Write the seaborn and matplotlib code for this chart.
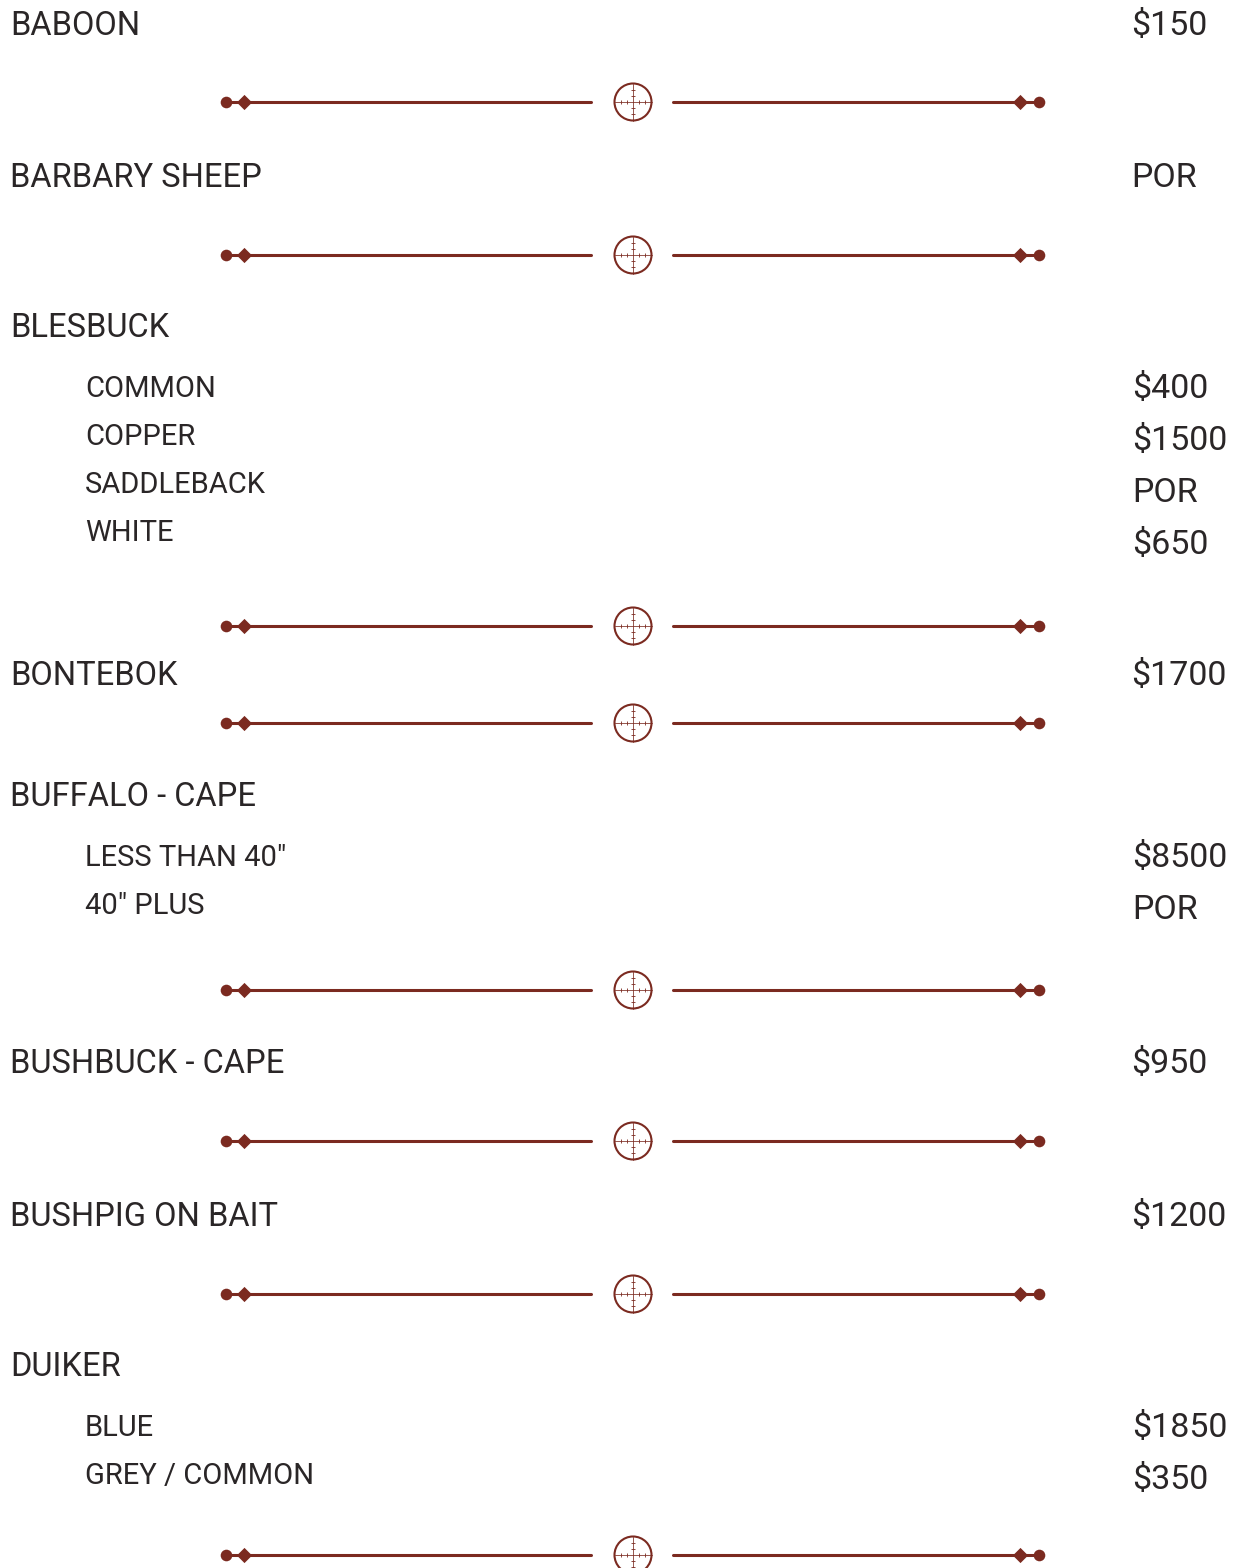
import numpy as np
import pandas as pd
import matplotlib
matplotlib.use("Agg")
import matplotlib.pyplot as plt
from matplotlib.patches import Circle
import seaborn as sns

sns.set_theme(style="white")
plt.rcParams['font.family'] = ['Roboto', 'DejaVu Sans']

# price list content
species = ["BABOON", "BARBARY SHEEP", "BLESBUCK", "BONTEBOK", "BUFFALO - CAPE",
           "BUSHBUCK - CAPE", "BUSHPIG ON BAIT", "DUIKER"]
species_prices = ["$150", "POR", "", "$1700", "", "$950", "$1200", ""]

sub_names = {
    "BLESBUCK": ["COMMON", "COPPER", "SADDLEBACK", "WHITE"],
    "BUFFALO - CAPE": ['LESS THAN 40"', '40" PLUS'],
    "DUIKER": ["BLUE", "GREY / COMMON"],
}
sub_prices = {
    "BLESBUCK": ["$400", "$1500", "POR", "$650"],
    "BUFFALO - CAPE": ["$8500", "POR"],
    "DUIKER": ["$1850", "$350"],
}

# page layout (pixel rows)
header_base = [35, 187, 337, 685, 806, 1073, 1226, 1376]
divider_y = [102, 255, 626, 723, 990, 1141, 1294, 1555]

ink = "#2a2627"
red = "#7b2a20"

fig = plt.figure(figsize=(12.41, 15.68), dpi=100)
ax = fig.add_axes([0, 0, 1, 1])
ax.set_xlim(0, 1241)
ax.set_ylim(1568, 0)
ax.axis("off")

for name, price, yb in zip(species, species_prices, header_base):
    ax.text(10, yb, name, fontsize=23.5, color=ink, va="baseline", ha="left")
    if price:
        ax.text(1131, yb, price, fontsize=24.5, color=ink, va="baseline", ha="left")
    for i, (sn, sp) in enumerate(zip(sub_names.get(name, []), sub_prices.get(name, []))):
        ax.text(85, yb + 60 + 48 * i, sn, fontsize=21, color=ink, va="baseline", ha="left")
        ax.text(1132, yb + 61 + 52 * i, sp, fontsize=24.5, color=ink, va="baseline", ha="left")

# dividers
segs = []
for k, y in enumerate(divider_y):
    segs.append(pd.DataFrame({"x": [226, 591], "y": [y, y], "seg": f"{k}L"}))
    segs.append(pd.DataFrame({"x": [673, 1039], "y": [y, y], "seg": f"{k}R"}))
seg_df = pd.concat(segs, ignore_index=True)
sns.lineplot(data=seg_df, x="x", y="y", units="seg", estimator=None,
             color=red, lw=2.2, ax=ax, sort=False, legend=False)

dots = pd.DataFrame({"x": np.tile([226, 1039], len(divider_y)),
                     "y": np.repeat(divider_y, 2)})
diam = pd.DataFrame({"x": np.tile([244, 1020], len(divider_y)),
                     "y": np.repeat(divider_y, 2)})
sns.scatterplot(data=dots, x="x", y="y", s=70, color=red, marker="o",
                linewidth=0, ax=ax, legend=False)
sns.scatterplot(data=diam, x="x", y="y", s=60, color=red, marker="D",
                linewidth=0, ax=ax, legend=False)

for y in divider_y:
    ax.add_patch(Circle((633, y), 18.5, fill=False, ec=red, lw=1.5))
    ax.plot([614.5, 651.5], [y, y], color=red, lw=0.7, alpha=0.8)
    ax.plot([633, 633], [y - 18.5, y + 18.5], color=red, lw=0.7, alpha=0.8)
    tk = np.array([-12, -6, 6, 12])
    ax.plot(633 + tk, np.full(4, y), ls="none", marker="|", ms=3, mew=0.6, color=red)
    ax.plot(np.full(4, 633), y + tk, ls="none", marker="_", ms=3, mew=0.6, color=red)

ax.set_xlim(0, 1241)
ax.set_ylim(1568, 0)
fig.savefig("out.png", dpi=100)
